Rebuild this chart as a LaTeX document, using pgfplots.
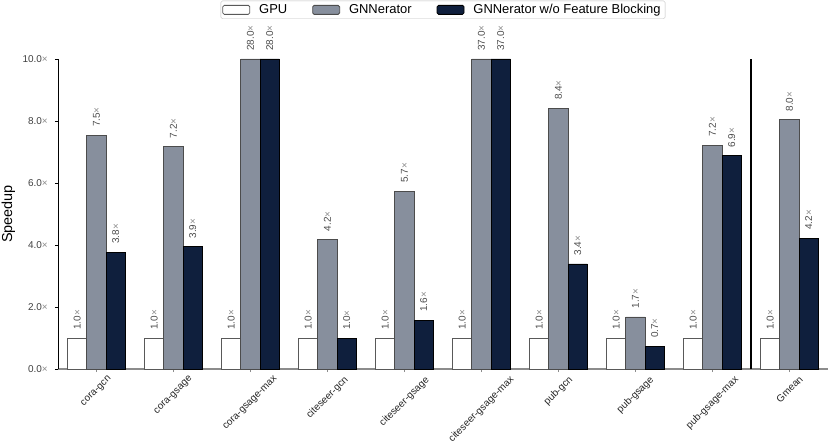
\documentclass[border=0pt]{standalone}
\usepackage{pgfplots}
\pgfplotsset{compat=1.18}
\usepackage{pgfplotstable}
\usepackage{fontspec}
\setmainfont{Liberation Sans}
\usetikzlibrary{calc}
\definecolor{gngray}{HTML}{878F9D}
\definecolor{navy}{HTML}{0F1F3D}
\pgfplotstableread{
x gpu gpul gn gnl gnm gnml
0 1.0 1.0 7.54 7.5 3.77 3.8
1 1.0 1.0 7.18 7.2 3.94 3.9
2 1.0 1.0 10.0 28.0 10.0 28.0
3 1.0 1.0 4.18 4.2 0.99 1.0
4 1.0 1.0 5.74 5.7 1.58 1.6
5 1.0 1.0 10.0 37.0 10.0 37.0
6 1.0 1.0 8.41 8.4 3.39 3.4
7 1.0 1.0 1.68 1.7 0.73 0.7
8 1.0 1.0 7.22 7.2 6.88 6.9
9 1.0 1.0 8.04 8.0 4.22 4.2
}\data
\begin{document}
\begin{tikzpicture}
\begin{axis}[name=ax, scale only axis, width=770bp, height=310bp,
  xmin=-0.5, xmax=9.5, ymin=0, ymax=10, clip=false,
  /pgf/number format/assume math mode=true,
  axis x line*=bottom, axis y line*=left,
  x axis line style={draw=black!45, line width=1.2bp, -},
  y axis line style={draw=black, line width=0.9bp, -},
  tick align=outside, major tick length=3bp,
  xtick style={draw=black!45, line width=0.8bp},
  ytick style={draw=black, line width=0.8bp},
  xtick={0,...,9},
  xticklabels={\rotatebox{45}{cora-gcn},\rotatebox{45}{cora-gsage},\rotatebox{45}{cora-gsage-max},\rotatebox{45}{citeseer-gcn},\rotatebox{45}{citeseer-gsage},\rotatebox{45}{citeseer-gsage-max},\rotatebox{45}{pub-gcn},\rotatebox{45}{pub-gsage},\rotatebox{45}{pub-gsage-max},\rotatebox{45}{Gmean}},
  xticklabel style={anchor=north, inner sep=0pt, yshift=-3bp, font=\fontsize{10}{12}\selectfont, text=black!85},
  ytick={0,2,4,6,8,10},
  yticklabel={\pgfmathprintnumber[fixed,fixed zerofill,precision=1]{\tick}{\color{black!45}×}},
  yticklabel style={font=\fontsize{10}{12}\selectfont, text=black!75, inner sep=0pt, xshift=-7bp},
  ybar, bar width=0.25,
  point meta=explicit,
  nodes near coords={\pgfmathprintnumber[fixed,fixed zerofill,precision=1]{\pgfplotspointmeta}{\color{black!45}×}},
  nodes near coords style={rotate=90, anchor=west, inner xsep=8bp, inner ysep=0pt, font=\fontsize{10}{12}\selectfont, text=black!70},
  legend columns=-1,
  legend style={at={(0.5,1)}, anchor=south, yshift=40bp, draw=black!25, rounded corners=1.5pt,
    inner sep=1.5bp, nodes={inner ysep=2bp, inner xsep=3bp},
    font=\fontsize{13}{14}\selectfont,
    /tikz/every even column/.append style={column sep=22bp}},
  legend image code/.code={\draw[#1] (0bp,-4.5bp) rectangle (27bp,4.5bp); \path (33bp,0bp);},
]
\addplot[fill=white, draw=black!65, line width=0.8bp, bar shift=-0.25] table[x=x, y=gpu, meta=gpul] {\data};
\addplot[fill=gngray, draw=black!70, line width=0.8bp, bar shift=0] table[x=x, y=gn, meta=gnl] {\data};
\addplot[fill=navy, draw=black, line width=0.8bp, bar shift=0.25] table[x=x, y=gnm, meta=gnml] {\data};
\legend{GPU, GNNerator, GNNerator w/o Feature Blocking}
\draw[black, line width=1.1bp] (axis cs:8.5,0) -- (axis cs:8.5,10);
\end{axis}
\node[font=\fontsize{14.5}{16}\selectfont, xshift=-49.5bp, rotate=90] at (ax.west) {Speedup};
\pgfresetboundingbox
\path[use as bounding box] ([shift={(-58bp,-75bp)}]ax.south west) rectangle ([shift={(2bp,59bp)}]ax.north east);
\end{tikzpicture}
\end{document}
